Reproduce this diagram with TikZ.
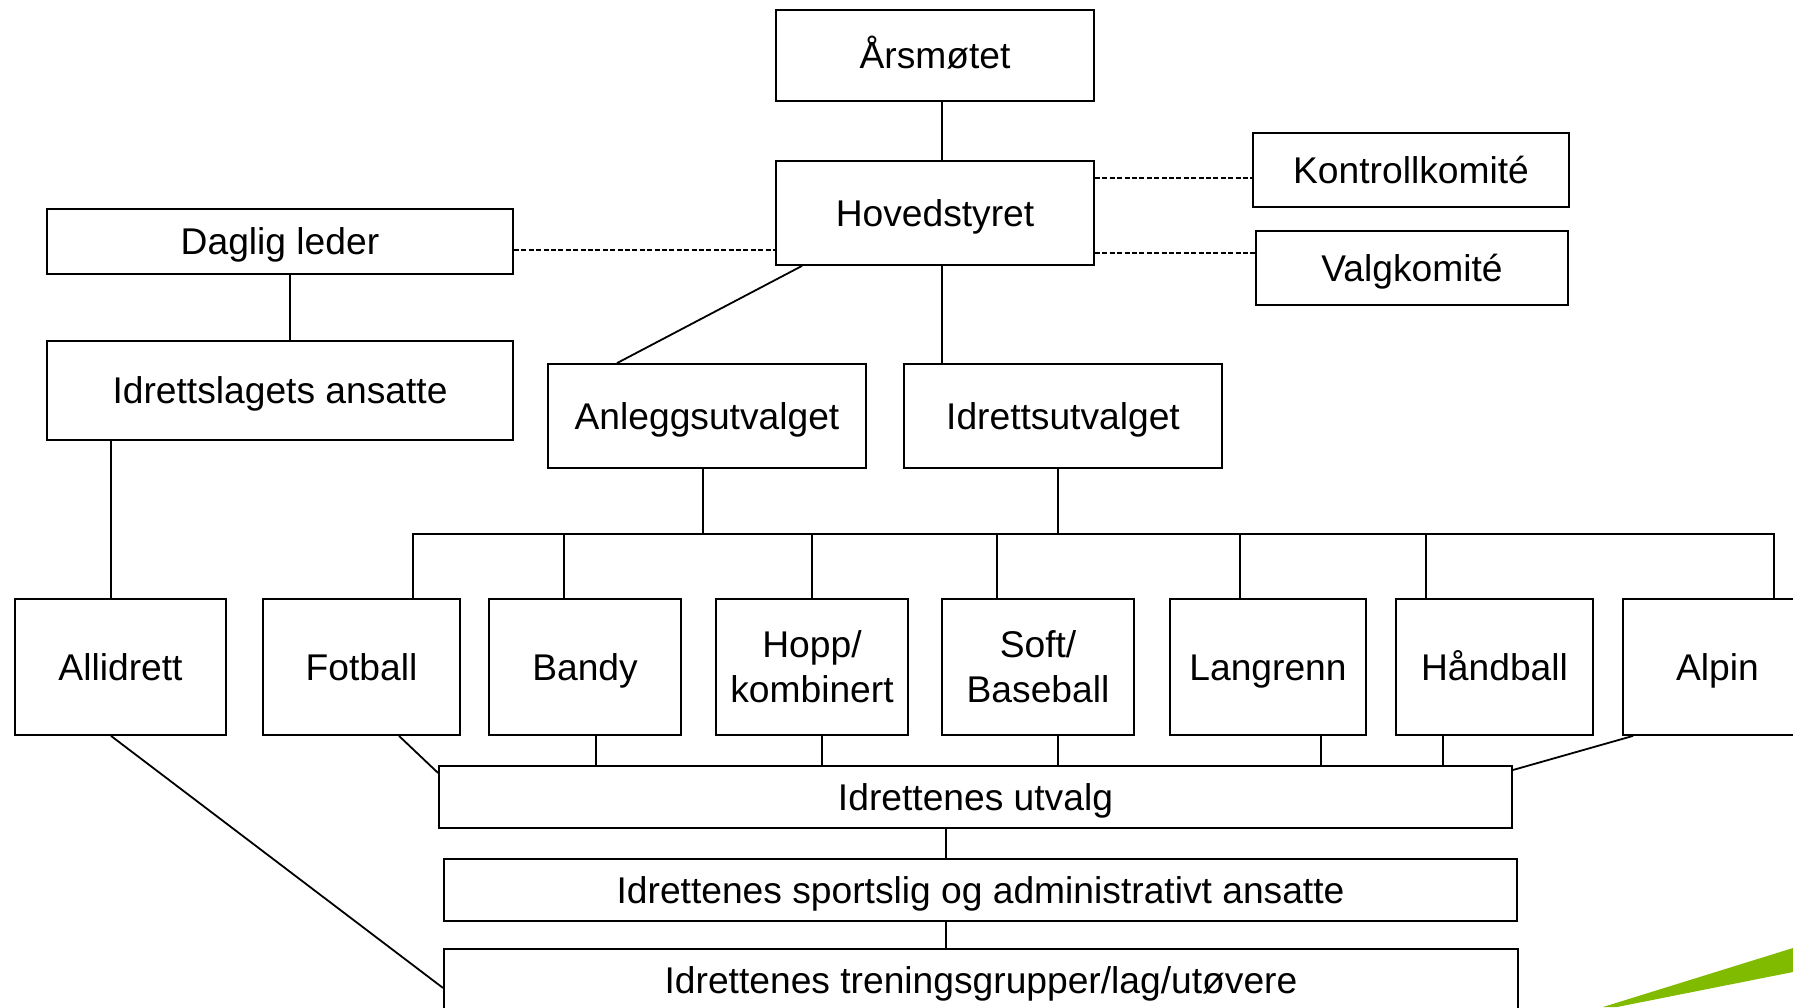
\documentclass[tikz,border=0pt]{standalone}
\usepackage{fontspec}
\setmainfont{Liberation Sans}
\definecolor{leafgreen}{RGB}{128,187,0}
\tikzset{
  box/.style={draw, line width=0.9pt, inner sep=0pt, align=center,
    font=\fontsize{18.6}{22.5}\selectfont},
  onebox/.style={box, text height=13.4pt, text depth=0pt},
  ln/.style={line width=0.9pt},
  dl/.style={line width=0.9pt, dash pattern=on 2.5pt off 1.2pt},
}
\begin{document}
\begin{tikzpicture}[x=0.5pt,y=-0.5pt]
\useasboundingbox (0,0) rectangle (1793,1007);
\clip (0,0) rectangle (1793,1007);
% top level
\node[onebox, minimum width=159pt, minimum height=45.5pt] (ars) at (935,55.5) {Årsmøtet};
\node[onebox, minimum width=159pt, minimum height=52pt] (hoved) at (935,213) {Hovedstyret};
\node[onebox, minimum width=158pt, minimum height=37pt] (kontroll) at (1411,170) {Kontrollkomité};
\node[onebox, minimum width=156pt, minimum height=37pt] (valg) at (1412,268) {Valgkomité};
\node[onebox, minimum width=233pt, minimum height=32.5pt] (daglig) at (280,241.5) {Daglig leder};
\node[onebox, minimum width=233pt, minimum height=49.5pt] (ansatte) at (280,390.5) {Idrettslagets ansatte};
\node[onebox, minimum width=159pt, minimum height=52pt] (anlegg) at (707,416) {Anleggsutvalget};
\node[onebox, minimum width=159pt, minimum height=52pt] (idrutv) at (1063,416) {Idrettsutvalget};
% sports row
\node[onebox, minimum width=105.5pt, minimum height=68pt] (allidrett) at (120.5,667) {Allidrett};
\node[onebox, minimum width=98.5pt, minimum height=68pt] (fotball) at (361.5,667) {Fotball};
\node[onebox, minimum width=96pt, minimum height=68pt] (bandy) at (585,667) {Bandy};
\node[box, minimum width=96pt, minimum height=68pt] (hopp) at (812,667) {Hopp/\\kombinert};
\node[box, minimum width=96pt, minimum height=68pt] (soft) at (1038,667) {Soft/\\Baseball};
\node[onebox, minimum width=98pt, minimum height=68pt] (langrenn) at (1268,667) {Langrenn};
\node[onebox, minimum width=98.5pt, minimum height=68pt] (handball) at (1494.5,667) {Håndball};
\node[onebox, minimum width=98.5pt, minimum height=68pt] (alpin) at (1721.5,667) {\hspace*{-4pt}Alpin};
% bottom
\node[onebox, minimum width=536.5pt, minimum height=31pt] (utvalg) at (975.5,797) {Idrettenes utvalg};
\node[onebox, minimum width=536.5pt, minimum height=31pt] (sportslig) at (980.5,890) {Idrettenes sportslig og administrativt ansatte};
\node[onebox, minimum width=537pt, minimum height=31pt] (trening) at (981,980) {Idrettenes treningsgrupper/lag/utøvere};
% connectors top
\draw[ln] ([xshift=3.5pt]ars.south) -- ([xshift=3.5pt]hoved.north);
\draw[dl] ([yshift=17.5pt]hoved.east) -- ([yshift=-4pt]kontroll.west);
\draw[dl] ([yshift=-20pt]hoved.east) -- ([yshift=7.5pt]valg.west);
\draw[dl] ([yshift=-4.25pt]daglig.east) -- ([yshift=-18.5pt]hoved.west);
\draw[ln] ([xshift=5pt]daglig.south) -- ([xshift=5pt]ansatte.north);
\draw[ln] ([xshift=-84.5pt]ansatte.south) -- ([xshift=-4.75pt]allidrett.north);
\draw[ln] ([xshift=-66.5pt]hoved.south) -- ([xshift=-45pt]anlegg.north);
\draw[ln] ([xshift=3.5pt]hoved.south) -- ([xshift=-60.5pt]idrutv.north);
% bus
\coordinate (busL) at (413,534);
\coordinate (busR) at (1774,534);
\draw[ln] ([xshift=25.75pt]fotball.north) -- (busL) -- (busR) -- ([xshift=26.25pt]alpin.north);
\draw[ln] ([xshift=-2pt]anlegg.south) -- ++(0,66);
\draw[ln] ([xshift=-2.5pt]idrutv.south) -- ++(0,66);
\draw[ln] ([xshift=-10.5pt]bandy.north) -- ++(0,-65);
\draw[ln] (hopp.north) -- ++(0,-65);
\draw[ln] ([xshift=-20.5pt]soft.north) -- ++(0,-65);
\draw[ln] ([xshift=-14pt]langrenn.north) -- ++(0,-65);
\draw[ln] ([xshift=-34.25pt]handball.north) -- ++(0,-65);
% bottom connectors
\draw[ln] ([xshift=18.75pt]fotball.south) -- ([yshift=12pt]utvalg.west);
\draw[ln] ([xshift=5.5pt]bandy.south) -- ++(0,31);
\draw[ln] ([xshift=5pt]hopp.south) -- ++(0,31);
\draw[ln] ([xshift=10pt]soft.south) -- ++(0,31);
\draw[ln] ([xshift=26.5pt]langrenn.south) -- ++(0,31);
\draw[ln] ([xshift=-25.75pt]handball.south) -- ++(0,31);
\draw[ln] ([xshift=-44.25pt]alpin.south) -- ([yshift=13.5pt]utvalg.east);
\draw[ln] ([xshift=-14.75pt]utvalg.south) -- ([xshift=-17.25pt]sportslig.north);
\draw[ln] ([xshift=-17.25pt]sportslig.south) -- ([xshift=-17.5pt]trening.north);
\draw[ln] ([xshift=-4.75pt]allidrett.south) -- ([yshift=-4pt]trening.west);
% green wedge
\fill[leafgreen] (1603,1007) -- (1793,948) -- (1793,972) -- (1617,1007) -- cycle;
\end{tikzpicture}
\end{document}
